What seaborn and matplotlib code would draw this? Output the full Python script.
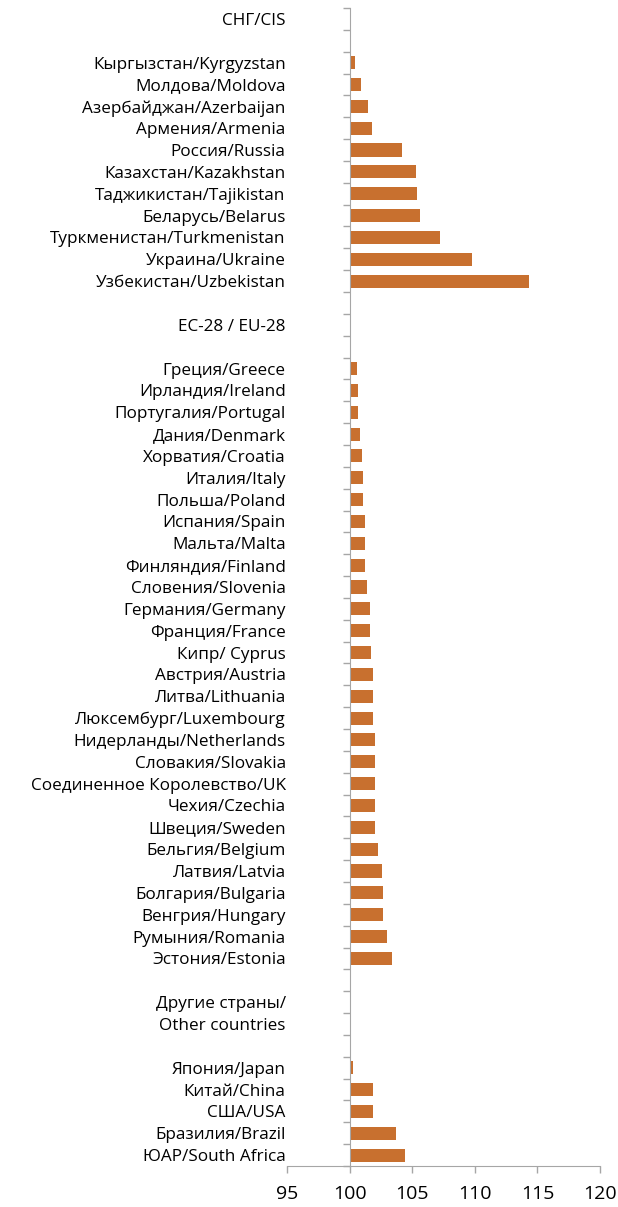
import matplotlib.pyplot as plt
import numpy as np
import pandas as pd
import seaborn as sns
from matplotlib.ticker import FuncFormatter

# index, previous year = 100
cis_countries = [
    "Кыргызстан/Kyrgyzstan", "Молдова/Moldova", "Азербайджан/Azerbaijan",
    "Армения/Armenia", "Россия/Russia", "Казахстан/Kazakhstan",
    "Таджикистан/Tajikistan", "Беларусь/Belarus", "Туркменистан/Turkmenistan",
    "Украина/Ukraine", "Узбекистан/Uzbekistan",
]
cis_values = [100.45, 100.9, 101.5, 101.8, 104.2, 105.3, 105.4, 105.6, 107.2, 109.8, 114.3]

eu_countries = [
    "Греция/Greece", "Ирландия/Ireland", "Португалия/Portugal", "Дания/Denmark",
    "Хорватия/Croatia", "Италия/Italy", "Польша/Poland", "Испания/Spain",
    "Мальта/Malta", "Финляндия/Finland", "Словения/Slovenia", "Германия/Germany",
    "Франция/France", "Кипр/ Cyprus", "Австрия/Austria", "Литва/Lithuania",
    "Люксембург/Luxembourg", "Нидерланды/Netherlands", "Словакия/Slovakia",
    "Соединенное Королевство/UK", "Чехия/Czechia", "Швеция/Sweden",
    "Бельгия/Belgium", "Латвия/Latvia", "Болгария/Bulgaria", "Венгрия/Hungary",
    "Румыния/Romania", "Эстония/Estonia",
]
eu_values = [100.6, 100.7, 100.7, 100.8, 101.0, 101.1, 101.1, 101.2, 101.2, 101.2,
             101.4, 101.6, 101.6, 101.7, 101.9, 101.9, 101.9, 102.0, 102.0, 102.0,
             102.0, 102.0, 102.3, 102.6, 102.7, 102.7, 103.0, 103.4]

other_countries = ["Япония/Japan", "Китай/China", "США/USA", "Бразилия/Brazil", "ЮАР/South Africa"]
other_values = [100.3, 101.9, 101.9, 103.7, 104.4]

base = 100

# Excel-style layout: group headers and empty rows between groups
labels = (["СНГ/CIS", " "] + cis_countries
          + ["  ", "ЕС-28 / EU-28", "   "] + eu_countries
          + ["    ", "Другие страны/", "Other countries", "     "] + other_countries)
values = ([np.nan] * 2 + cis_values + [np.nan] * 3 + eu_values
          + [np.nan] * 4 + other_values)

df = pd.DataFrame({"country": labels, "change": np.array(values) - base})

sns.set_style("ticks")
plt.rcParams["font.family"] = ["Open Sans", "DejaVu Sans"]
plt.rcParams["text.color"] = "black"
plt.rcParams["xtick.labelcolor"] = "black"
plt.rcParams["ytick.labelcolor"] = "black"

fig = plt.figure(figsize=(6.18, 12.07), dpi=100)
ax = fig.add_axes([287 / 618, 1 - 1166 / 1207, (600 - 287) / 618, (1166 - 8) / 1207])

sns.barplot(data=df, x="change", y="country", order=labels, color="#C8702F",
            saturation=1, width=0.6, linewidth=0, ax=ax)

grey = "#A6A6A6"
ax.set_xlim(-5, 20)
ax.set_xticks(np.arange(-5, 21, 5))
ax.xaxis.set_major_formatter(FuncFormatter(lambda v, p: f"{v + base:.0f}"))
ax.set_xlabel("")
ax.set_ylabel("")

for s in ["top", "right"]:
    ax.spines[s].set_visible(False)
ax.spines["left"].set_position(("data", 0))
ax.spines["left"].set_color(grey)
ax.spines["bottom"].set_color(grey)

n = len(labels)
ax.set_yticks(np.arange(-0.5, n, 1), minor=True)
ax.tick_params(axis="y", which="major", length=0, pad=46, labelsize=12.3)
ax.tick_params(axis="y", which="minor", length=5, color=grey, width=1)
ax.tick_params(axis="x", length=5, color=grey, width=1, labelsize=14, pad=9)
ax.set_ylim(n - 0.5, -0.5)

fig.savefig("out.png", dpi=100)
